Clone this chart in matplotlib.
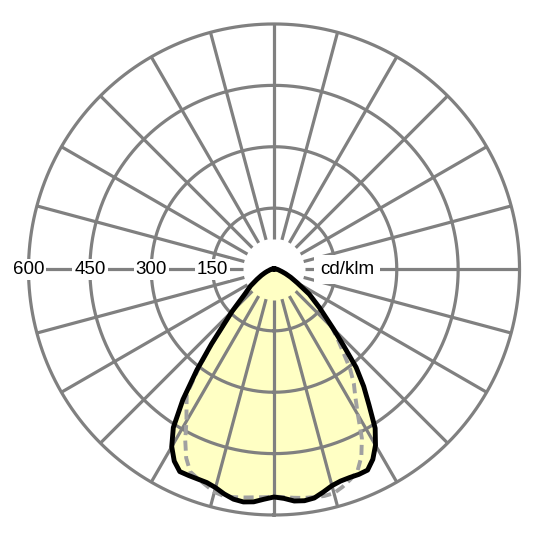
import numpy as np
import matplotlib
matplotlib.use("Agg")
import matplotlib.pyplot as plt

plt.rcParams['font.family'] = ['Liberation Sans', 'DejaVu Sans']

# gamma angles (degrees from nadir) and luminous intensity in cd/klm
gamma = [0, 2.5, 5, 7.5, 10, 12.5, 15, 17.5, 20, 22.5, 25, 27.5, 30, 32.5,
         35, 37.5, 40, 42.5, 45, 50, 55, 60, 65, 70, 75, 80, 85, 90,
         105, 120, 135, 150, 165, 180]

# C0 plane (right half, solid)
c0 = [556, 560, 568, 570, 567, 557, 547, 542, 541, 542, 541, 523, 496, 460,
      405, 360, 312, 250, 205, 145, 105, 66, 45, 30, 20, 14, 11, 9,
      5, 3, 2, 2, 1, 1]
# C180 plane (left half, solid)
c180 = [556, 562, 570, 573, 570, 562, 552, 546, 545, 545, 545, 528, 500, 458,
        388, 310, 238, 180, 145, 92, 70, 48, 34, 24, 17, 12, 10, 8,
        5, 3, 2, 2, 1, 1]
# C90 plane (right half, dashed)
c90 = [555, 557, 560, 563, 565, 567, 566, 557, 546, 533, 505, 465, 410, 370,
       340, 305, 262, 230, 200, 143, 105, 66, 45, 30, 20, 14, 11, 9,
       5, 3, 2, 2, 1, 1]
# C270 plane (left half, dashed)
c270 = [555, 557, 559, 562, 565, 567, 563, 553, 544, 535, 508, 470, 428, 398,
        372, 300, 235, 178, 145, 92, 70, 48, 34, 24, 17, 12, 10, 8,
        5, 3, 2, 2, 1, 1]

ring_values = [150, 300, 450, 600]
ring_labels = ['150', '300', '450', '600']
unit_label = 'cd/klm'


def closed_curve(right, left):
    g = np.radians(gamma)
    theta = np.concatenate([-g[::-1], g[1:]])
    r = np.concatenate([np.array(left)[::-1], np.array(right)[1:]])
    return theta, r


grid_color = '#808080'

fig = plt.figure(figsize=(5.4, 5.4), dpi=100)
ax = fig.add_axes([0.0528, 0.0463, 0.9093, 0.9093], projection='polar')
ax.set_theta_zero_location('S')
ax.set_theta_direction(1)
ax.set_ylim(0, 600)
ax.grid(False)
ax.set_xticks([])
ax.set_yticks([])
ax.spines['polar'].set_visible(False)

# light distribution fill (solid plane)
th_s, r_s = closed_curve(c0, c180)
ax.fill(th_s, r_s, color='#ffffc4', zorder=1, lw=0)

# grid: rings and spokes every 15 degrees
full = np.linspace(0, 2 * np.pi, 721)
for v in ring_values:
    ax.plot(full, np.full_like(full, v), color=grid_color, lw=2.3,
            zorder=2, clip_on=False)
for a in range(0, 360, 15):
    t = np.radians(a)
    ax.plot([t, t], [75, 600], color=grid_color, lw=2.3, zorder=2,
            solid_capstyle='butt', clip_on=False)

# dashed plane
th_d, r_d = closed_curve(c90, c270)
ax.plot(th_d, r_d, color='#a0a0a0', lw=2.8, dashes=(2.6, 1.4), zorder=3)

# solid plane
ax.plot(th_s, r_s, color='black', lw=3.5, zorder=4, solid_joinstyle='round')

# labels along the horizontal axis
box = dict(facecolor='white', edgecolor='none', pad=1.5)
for v, lab in zip(ring_values, ring_labels):
    ax.text(np.radians(-90), v, lab, ha='center', va='center', fontsize=13.5,
            bbox=box, zorder=5, clip_on=False)
ax.text(np.radians(90), 178, unit_label, ha='center', va='center',
        fontsize=13.5, bbox=dict(facecolor='white', edgecolor='none', pad=4),
        zorder=5)

fig.savefig('out.png', dpi=100)
